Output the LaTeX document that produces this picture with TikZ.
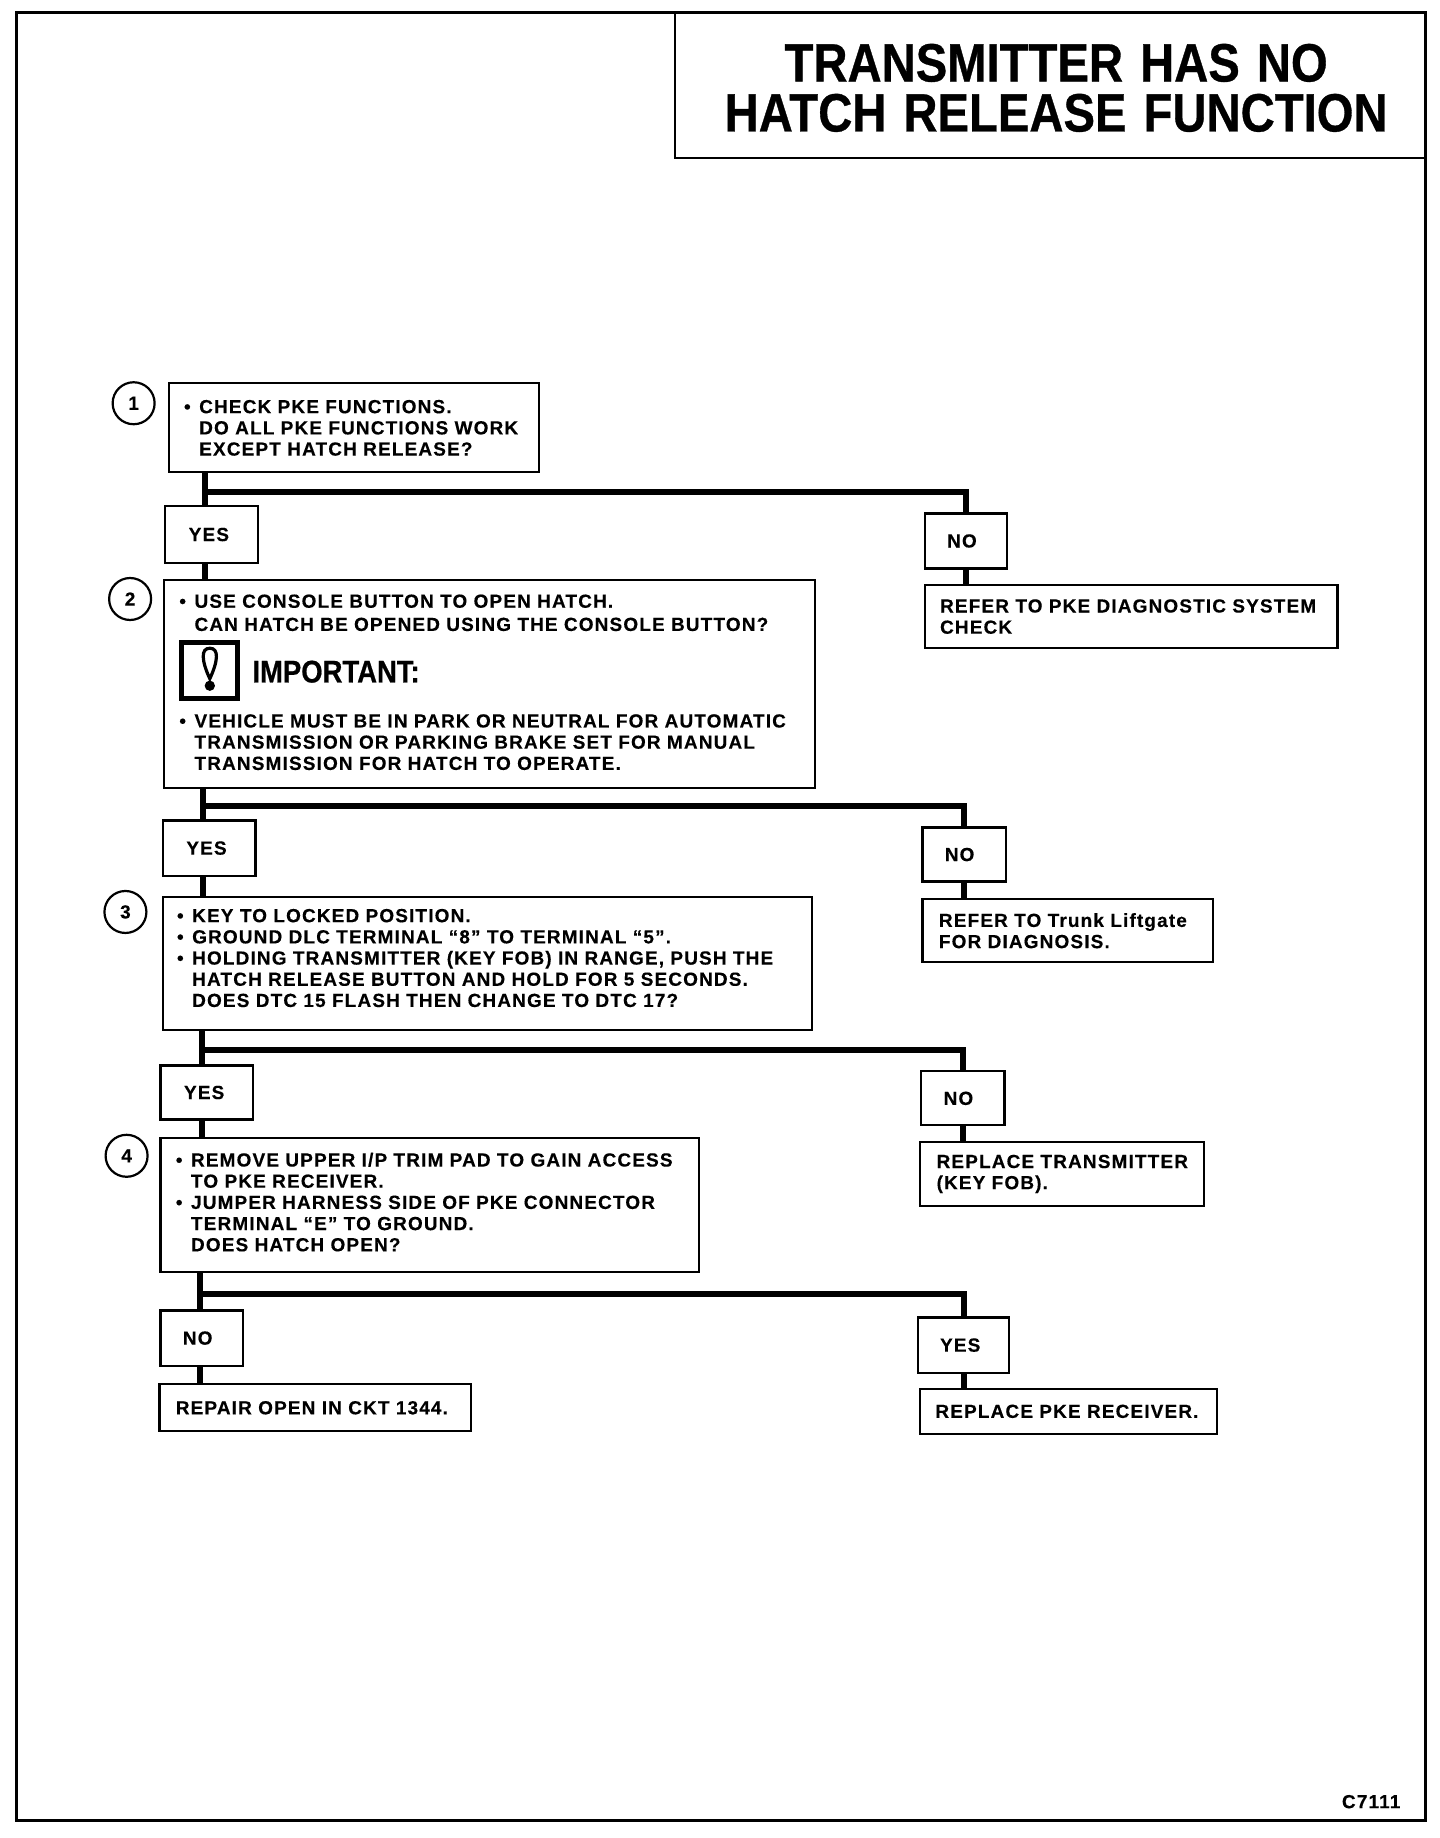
\documentclass[tikz,border=0pt]{standalone}
\usepackage{fontspec}
\setmainfont{Liberation Sans}[BoldFont=* Bold]
\newfontfamily\bodyfont{Liberation Sans Bold}[LetterSpace=6,WordSpace=1.4,FakeBold=0.25]
\newfontfamily\headfont{Liberation Sans Bold}[FakeStretch=0.875,WordSpace=1.3,FakeBold=0.6]
\usetikzlibrary{calc}
\newcommand{\dotitem}{\makebox[7.6pt][l]{\textbullet}}
\newcommand{\dotskip}{\hspace*{7.6pt}}
\tikzset{
	flowbox/.style n args={3}{draw, line width=1.1pt, anchor=north west, align=left, outer sep=0pt, inner ysep=0pt,
		inner xsep=#3*0.5863pt, text width=(#1-2*#3)*0.5863pt, minimum height=#2*0.5863pt,
		font=\bodyfont\fontsize{9.5}{10.6}\selectfont},
	numdot/.style={draw, circle, line width=1.1pt, minimum size=21pt, inner sep=0pt, font=\bodyfont\fontsize{9.5}{10.6}\selectfont},
	flowline/.style={line width=3pt},
}
\begin{document}
\begin{tikzpicture}[x=0.5863pt,y=-0.5863pt]
				\useasboundingbox (0,0) rectangle (1228,1568);
				\coordinate (ja) at (175,420);
				\coordinate (jb) at (173,688);
				\coordinate (jc) at (172,896);
				\coordinate (jd) at (171,1104);
				\draw[line width=1.5pt] (14,1553)--(14,11)--(1216,11)--(1216,1553)--cycle;
				\draw[line width=1.2pt] (576,11)--(576,135)--(1216,135);
				\node[align=center,font=\headfont\fontsize{27}{25}\selectfont] (title) at (901,75) {TRANSMITTER HAS NO\\HATCH RELEASE FUNCTION};
				\node[numdot] (numa) at (114,344) {1};
				\node[numdot] (numb) at (111,511) {2};
				\node[numdot] (numc) at (107,778) {3};
				\node[numdot] (numd) at (108,986) {4};
				\node[flowbox={316}{76}{13}] (stepa) at (144,327) {\dotitem CHECK PKE FUNCTIONS.\\\dotskip DO ALL PKE FUNCTIONS WORK\\\dotskip EXCEPT HATCH RELEASE?};
				\node[flowbox={555}{177}{13}] (stepb) at (140,495) {\dotitem USE CONSOLE BUTTON TO OPEN HATCH.\\[1pt]\dotskip CAN HATCH BE OPENED USING THE CONSOLE BUTTON?\\[37.7pt]\dotitem VEHICLE MUST BE IN PARK OR NEUTRAL FOR AUTOMATIC\\\dotskip TRANSMISSION OR PARKING BRAKE SET FOR MANUAL\\\dotskip TRANSMISSION FOR HATCH TO OPERATE.\\[-8.8pt]\mbox{}};
				\node[flowbox={554}{114}{12}] (stepc) at (139,765) {\dotitem KEY TO LOCKED POSITION.\\\dotitem GROUND DLC TERMINAL “8” TO TERMINAL “5”.\\\dotitem HOLDING TRANSMITTER (KEY FOB) IN RANGE, PUSH THE\\\dotskip HATCH RELEASE BUTTON AND HOLD FOR 5 SECONDS.\\\dotskip DOES DTC 15 FLASH THEN CHANGE TO DTC 17?\\[-5pt]\mbox{}};
				\node[flowbox={459}{114}{13}] (stepd) at (137,971) {\dotitem REMOVE UPPER I/P TRIM PAD TO GAIN ACCESS\\\dotskip TO PKE RECEIVER.\\\dotitem JUMPER HARNESS SIDE OF PKE CONNECTOR\\\dotskip TERMINAL “E” TO GROUND.\\\dotskip DOES HATCH OPEN?\\[-7.6pt]\mbox{}};
				\node[draw,line width=2.4pt,minimum size=28pt,inner sep=0pt] (warn) at (178.5,572) {};
				\filldraw[line width=1.6pt,fill=white] (179,553) .. controls (171,553) and (172,564) .. (179,579) .. controls (186,564) and (187,553) .. (179,553) -- cycle;
				\fill (179,585) circle (4.4);
				\node[anchor=west,inner sep=0pt,font=\headfont\fontsize{15.7}{16}\selectfont] (imp) at (215,573) {IMPORTANT:};
				\node[flowbox={79}{48}{20}] (yesa) at (141,432) {YES};
				\node[flowbox={79}{47}{20}] (yesb) at (139,700) {YES};
				\node[flowbox={79}{46}{20}] (yesc) at (137,909) {YES};
				\node[flowbox={70}{47}{19}] (noa) at (789,438) {NO};
				\node[flowbox={71}{46}{19}] (nob) at (787,706) {NO};
				\node[flowbox={71}{46}{19}] (noc) at (786,914) {NO};
				\node[flowbox={70}{47}{19}] (nod) at (137,1118) {NO};
				\node[flowbox={78}{47}{19}] (yesd) at (783,1124) {YES};
				\node[flowbox={352}{54}{13}] (refa) at (789,499) {REFER TO PKE DIAGNOSTIC SYSTEM\\CHECK};
				\node[flowbox={248}{54}{14}] (refb) at (787,767) {REFER TO Trunk Liftgate\\FOR DIAGNOSIS.};
				\node[flowbox={242}{55}{14}] (refc) at (785,974) {REPLACE TRANSMITTER\\(KEY FOB).};
				\node[flowbox={266}{40}{14}] (refd) at (136,1181) {REPAIR OPEN IN CKT 1344.};
				\node[flowbox={253}{38}{13}] (refe) at (785,1185) {REPLACE PKE RECEIVER.};
				\node[anchor=east,inner sep=0pt,font=\bodyfont\fontsize{9.5}{10.6}\selectfont] (code) at (1195,1537) {C7111};
				\draw[flowline] (ja |- stepa.south)--(ja |- yesa.north);
				\draw[flowline] (ja |- yesa.south)--(ja |- stepb.north);
				\draw[flowline] (ja) -| (noa.north);
				\draw[flowline] (noa.south)--(noa.south |- refa.north);
				\draw[flowline] (jb |- stepb.south)--(jb |- yesb.north);
				\draw[flowline] (jb |- yesb.south)--(jb |- stepc.north);
				\draw[flowline] (jb) -| (nob.north);
				\draw[flowline] (nob.south)--(nob.south |- refb.north);
				\draw[flowline] (jc |- stepc.south)--(jc |- yesc.north);
				\draw[flowline] (jc |- yesc.south)--(jc |- stepd.north);
				\draw[flowline] (jc) -| (noc.north);
				\draw[flowline] (noc.south)--(noc.south |- refc.north);
				\draw[flowline] (jd |- stepd.south)--(jd |- nod.north);
				\draw[flowline] (jd |- nod.south)--(jd |- refd.north);
				\draw[flowline] (jd) -| (yesd.north);
				\draw[flowline] (yesd.south)--(yesd.south |- refe.north);
			\end{tikzpicture}
\end{document}
